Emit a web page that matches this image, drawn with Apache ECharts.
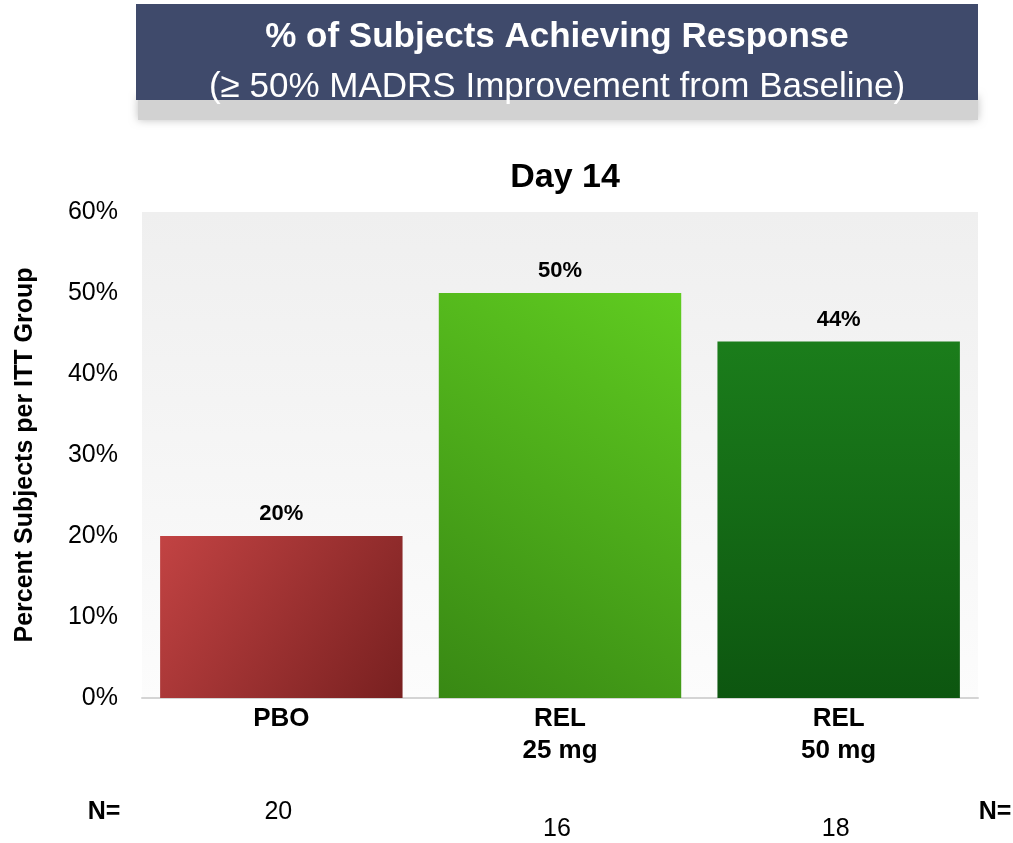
<!DOCTYPE html>
<html>
<head>
<meta charset="utf-8">
<script src="https://cdn.jsdelivr.net/npm/echarts@6/dist/echarts.min.js"></script>
<style>
  html, body { margin: 0; padding: 0; background: #fff; }
  #chart { width: 1013px; height: 843px; }
</style>
</head>
<body>
<div id="chart"></div>
<script>
// Response rates at Day 14 by treatment group
const categories = ['PBO', 'REL\n25 mg', 'REL\n50 mg'];
const responsePct = [20, 50, 44];
const groupN = [20, 16, 18];
const yTicks = [0, 10, 20, 30, 40, 50, 60];

const FONT = '"Liberation Sans", Arial, sans-serif';

const barFills = [
  new echarts.graphic.LinearGradient(0, 0, 1, 1, [
    { offset: 0, color: '#c24343' },
    { offset: 1, color: '#782020' }
  ]),
  new echarts.graphic.LinearGradient(0, 1, 1, 0, [
    { offset: 0, color: '#388814' },
    { offset: 1, color: '#60cc20' }
  ]),
  new echarts.graphic.LinearGradient(0, 0, 0, 1, [
    { offset: 0, color: '#1b7d1b' },
    { offset: 1, color: '#0d5610' }
  ])
];

const chart = echarts.init(document.getElementById('chart'), null, { renderer: 'canvas' });

chart.setOption({
  backgroundColor: '#ffffff',
  animation: false,
  textStyle: { fontFamily: FONT },
  grid: {
    left: 142, right: 35, top: 212, bottom: 145,
    outerBoundsMode: 'none',
    containLabel: false,
    show: true,
    borderWidth: 0,
    backgroundColor: new echarts.graphic.LinearGradient(0, 0, 0, 1, [
      { offset: 0, color: '#efefef' },
      { offset: 1, color: '#fcfcfc' }
    ])
  },
  title: [
    {
      text: 'Day 14',
      left: 560, top: 156, textAlign: 'center',
      textStyle: { fontFamily: FONT, fontSize: 34, fontWeight: 'bold', color: '#000' }
    }
  ],
  xAxis: {
    type: 'category',
    data: categories,
    axisLine: { lineStyle: { color: '#d4d4d4', width: 2 } },
    axisTick: { show: false },
    axisLabel: {
      color: '#000', fontFamily: FONT, fontSize: 26, fontWeight: 'bold',
      lineHeight: 32, margin: 5
    }
  },
  yAxis: {
    type: 'value',
    min: yTicks[0], max: yTicks[yTicks.length - 1], interval: 10,
    name: 'Percent Subjects per ITT Group',
    nameLocation: 'middle',
    nameGap: 104,
    nameRotate: 90,
    nameTextStyle: { color: '#000', fontFamily: FONT, fontSize: 25, fontWeight: 'bold' },
    axisLine: { show: false },
    axisTick: { show: false },
    splitLine: { show: false },
    axisLabel: {
      color: '#000', fontFamily: FONT, fontSize: 25, margin: 24,
      formatter: '{value}%'
    }
  },
  series: [{
    type: 'bar',
    barCategoryGap: '13%',
    data: responsePct.map((v, i) => ({ value: v, itemStyle: { color: barFills[i] } })),
    label: {
      show: true, position: 'top', distance: 11,
      formatter: '{c}%',
      color: '#000', fontFamily: FONT, fontSize: 22, fontWeight: 'bold'
    }
  }]
});

// Header banner plus the N= row below the axis, placed from the category scale
const nRowY = [812, 829, 829];
const graphics = [
  {
    type: 'rect', shape: { x: 138, y: 96, width: 840, height: 24 },
    style: { fill: '#d2d2d2', shadowBlur: 8, shadowColor: 'rgba(0,0,0,0.25)' }, z: 1
  },
  {
    type: 'rect', shape: { x: 136, y: 4, width: 842, height: 96 },
    style: { fill: '#3f4a6b' }, z: 2
  },
  {
    type: 'text', x: 557, y: 37, z: 3,
    style: {
      text: '% of Subjects Achieving Response', fill: '#fff',
      font: 'bold 35px ' + FONT, textAlign: 'center', textVerticalAlign: 'middle'
    }
  },
  {
    type: 'text', x: 557, y: 87, z: 3,
    style: {
      text: '(\u2265 50% MADRS Improvement from Baseline)', fill: '#fff',
      font: '35px ' + FONT, textAlign: 'center', textVerticalAlign: 'middle'
    }
  },
  {
    type: 'text', x: 104, y: 812,
    style: { text: 'N=', fill: '#000', font: 'bold 25px ' + FONT, textAlign: 'center', textVerticalAlign: 'middle' }
  },
  {
    type: 'text', x: 995, y: 812,
    style: { text: 'N=', fill: '#000', font: 'bold 25px ' + FONT, textAlign: 'center', textVerticalAlign: 'middle' }
  }
];
groupN.forEach((n, i) => {
  const px = chart.convertToPixel({ xAxisIndex: 0 }, i);
  graphics.push({
    type: 'text', x: px - 3, y: nRowY[i],
    style: { text: String(n), fill: '#000', font: '25px ' + FONT, textAlign: 'center', textVerticalAlign: 'middle' }
  });
});
chart.setOption({ graphic: graphics });
</script>
</body>
</html>
